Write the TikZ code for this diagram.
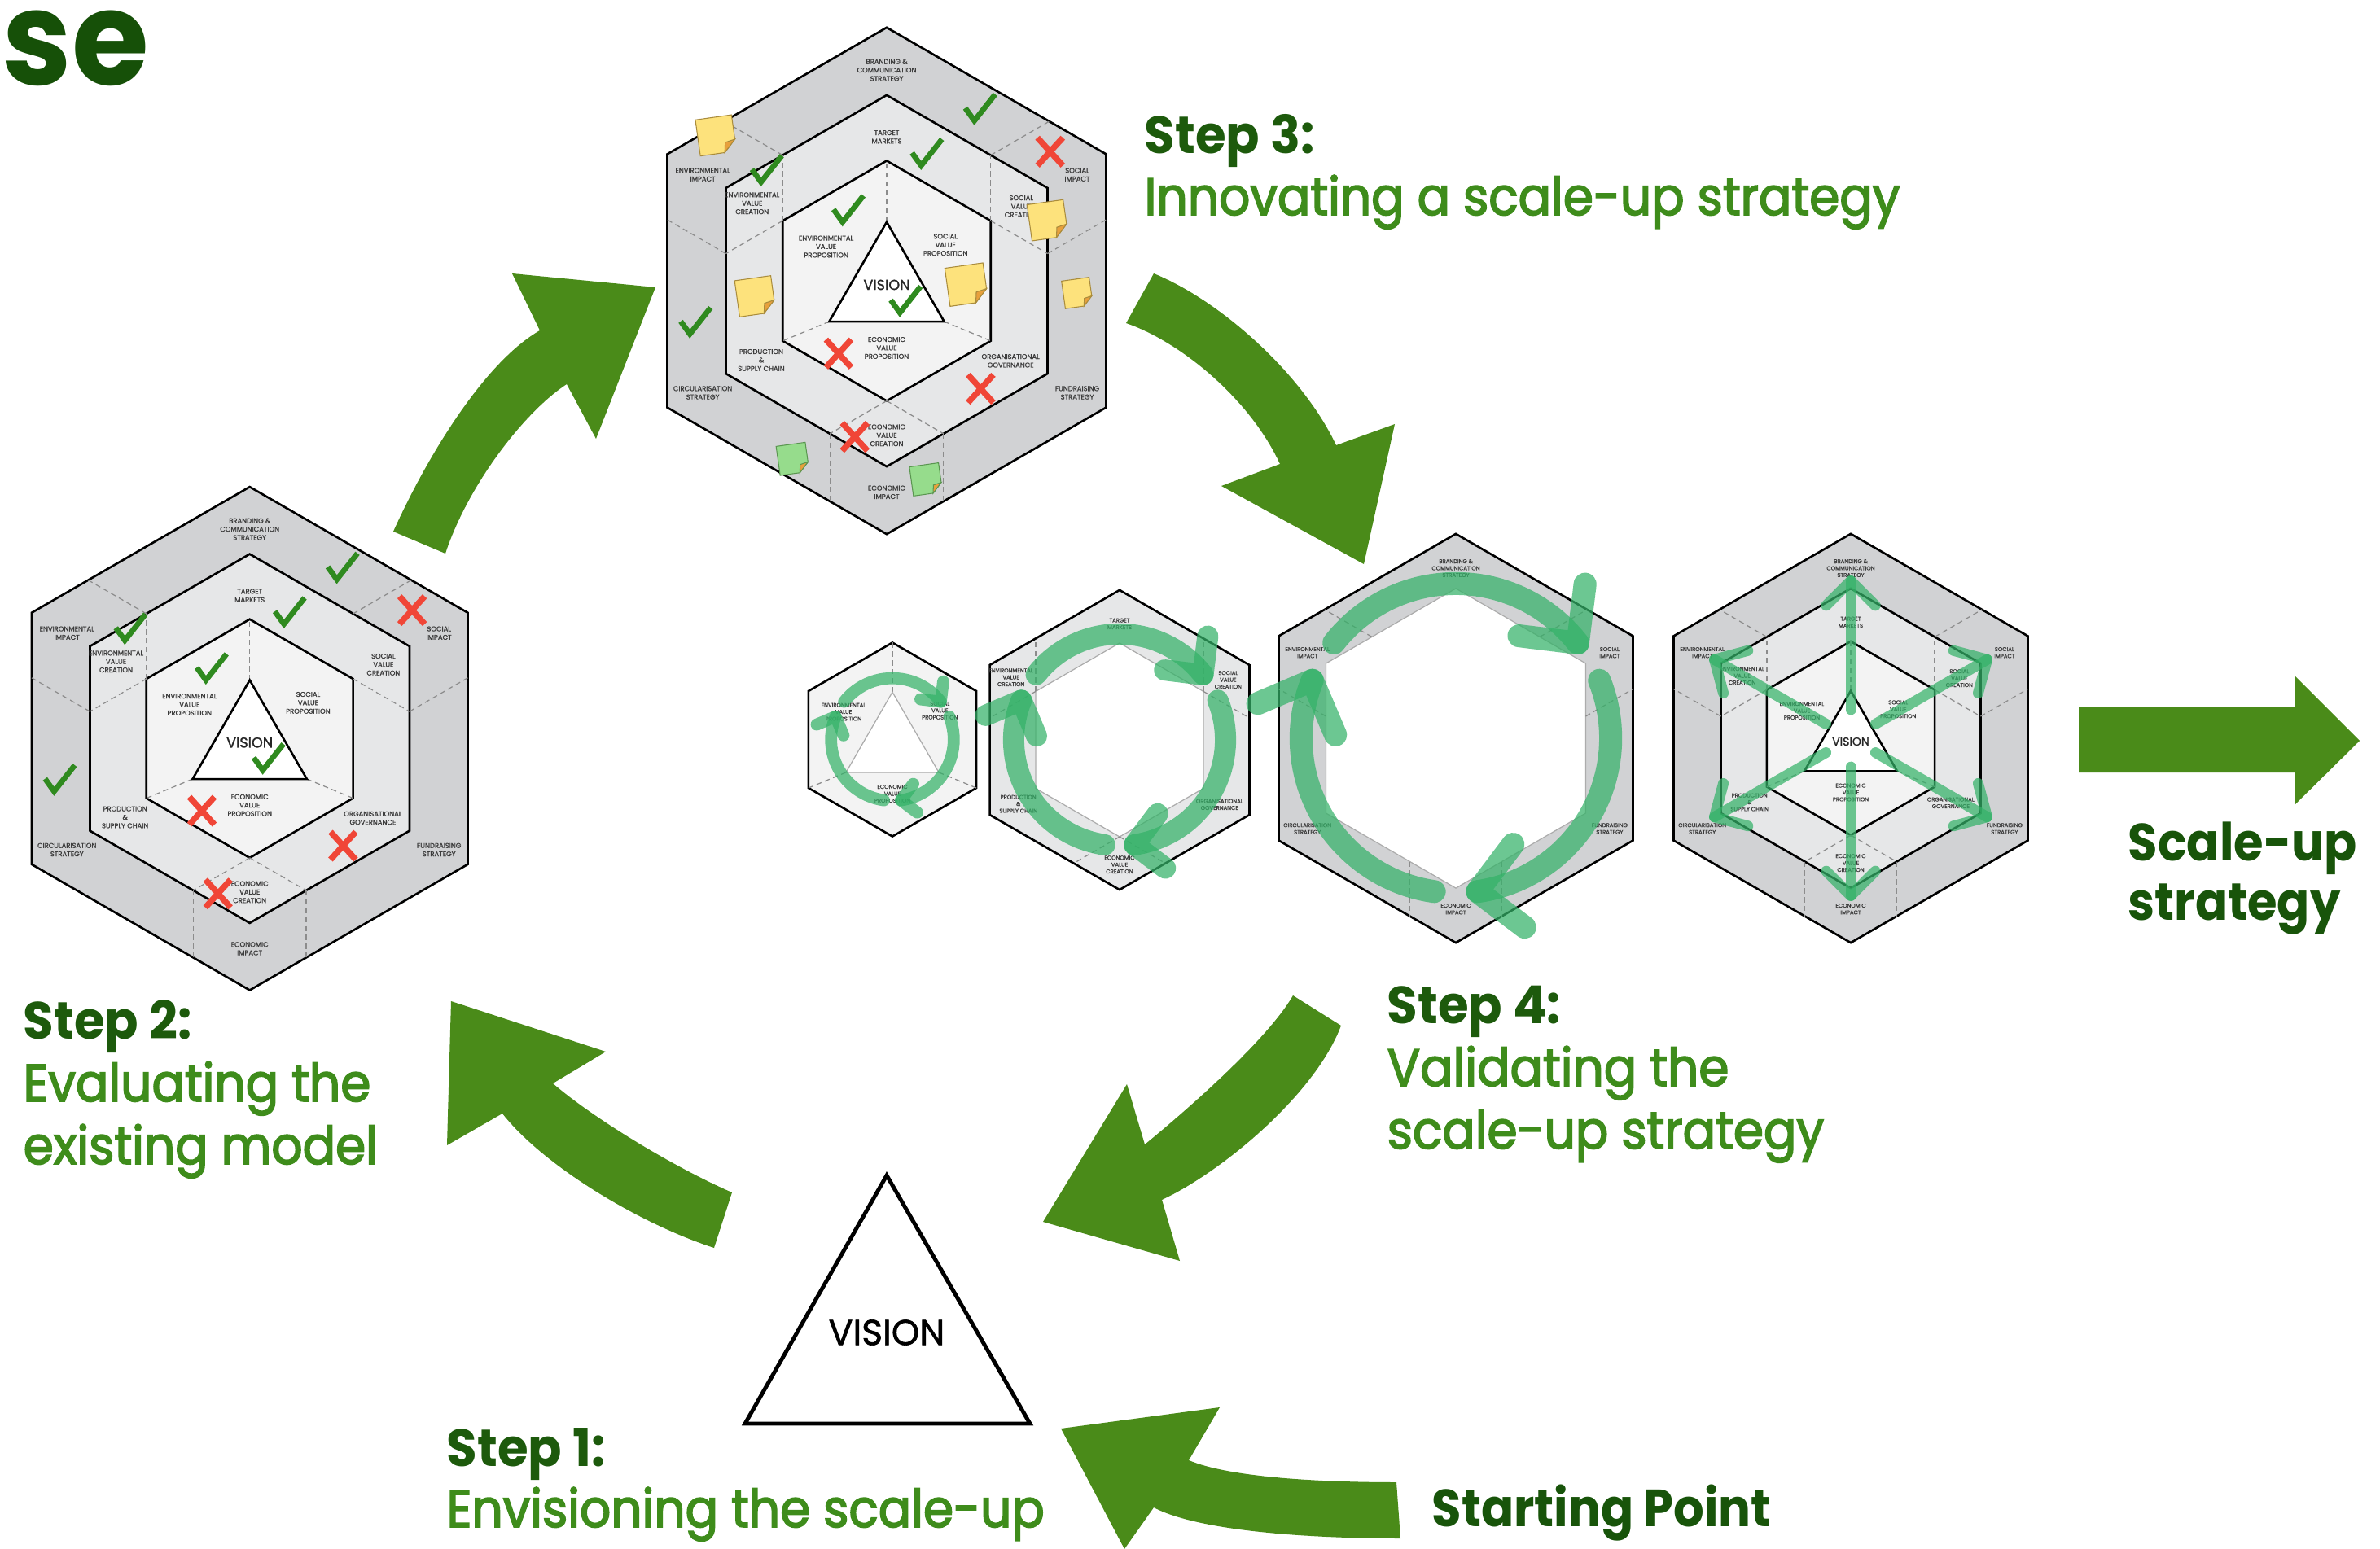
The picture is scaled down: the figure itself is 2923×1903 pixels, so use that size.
\documentclass[tikz,border=0pt]{standalone}
\usepackage{fontspec}
\setmainfont{Poppins}[BoldFeatures={FakeStretch=0.95}]
\newfontfamily\popmed{Poppins}[FakeBold=1.4]
\newfontfamily\popdesc{Poppins}[FakeBold=2.6, FakeStretch=0.93]
\newfontfamily\popsu{Poppins}[BoldFeatures={FakeStretch=0.92}]
\usetikzlibrary{calc}
\definecolor{arrowgreen}{RGB}{74,139,25}
\definecolor{descgreen}{RGB}{62,140,27}
\definecolor{stepgreen}{RGB}{29,90,12}
\definecolor{darkgreen}{RGB}{24,84,10}
\definecolor{segreen}{RGB}{22,80,8}
\definecolor{ringout}{RGB}{209,210,212}
\definecolor{ringmid}{RGB}{230,231,232}
\definecolor{ringin}{RGB}{243,243,243}
\definecolor{lblgray}{RGB}{60,60,60}
\definecolor{dashgray}{RGB}{140,140,140}
\definecolor{cyclegreen}{RGB}{52,178,104}
\definecolor{tickgreen}{RGB}{47,138,31}
\definecolor{crossred}{RGB}{240,70,55}
\definecolor{noteyellow}{RGB}{253,226,124}
\definecolor{noteedge}{RGB}{170,140,60}
\definecolor{notefold}{RGB}{232,160,60}
\definecolor{notegreen}{RGB}{150,220,140}
\definecolor{notegreenedge}{RGB}{90,150,80}
\tikzset{
 hexline/.style={draw=black, line width=0.75pt, line join=miter},
 thinhex/.style={draw=gray!65, line width=0.35pt},
 dsh/.style={draw=dashgray, line width=0.35pt, dash pattern=on 1.8pt off 1.3pt},
 lblA/.style={font=\popmed\fontsize{2.4}{2.95}\selectfont, text=lblgray, align=center, inner sep=0pt},
 lblB/.style={font=\popmed\fontsize{1.95}{2.4}\selectfont, text=lblgray, align=center, inner sep=0pt},
 visA/.style={font=\popmed\fontsize{5}{5}\selectfont, text=black!85, inner sep=0pt},
 visB/.style={font=\popmed\fontsize{4}{4}\selectfont, text=black!85, inner sep=0pt},
 cyc/.style={draw=cyclegreen, draw opacity=0.72, line cap=round, line join=round},
 bigarrow/.style={fill=arrowgreen},
 stepfont/.style={font=\bfseries\fontsize{18.3}{22}\selectfont, text=stepgreen, anchor=base west, inner sep=0pt},
 descfont/.style={font=\popdesc\fontsize{18.3}{22}\selectfont, text=descgreen, anchor=base west, inner sep=0pt},
 sufont/.style={font=\popsu\bfseries\fontsize{18.3}{22}\selectfont, text=darkgreen, anchor=base west, inner sep=0pt}
}
\newcommand\Rm{0.733}
\newcommand\Ri{0.474}
\newcommand\hexp[1]{(90:#1)--(150:#1)--(210:#1)--(270:#1)--(330:#1)--(30:#1)--cycle}
\newcommand\tripath{(0,0.232)--(-0.227,-0.161)--(0.227,-0.161)--cycle}
\newcommand\dashesOuter{\foreach \p in {150,30,270}{%
  \draw[dsh] (\p:\Ri) ++(\p-60:0.259) -- ++(\p:0.267);
  \draw[dsh] (\p:\Ri) ++(\p+60:0.259) -- ++(\p:0.267);}}
\newcommand\dashesMid{\foreach \p in {150,30,270}{%
  \draw[dsh] (\p:\Ri) -- ++(\p-60:0.259);
  \draw[dsh] (\p:\Ri) -- ++(\p+60:0.259);}}
\newcommand\dashesIn{%
  \draw[dsh] (0,0.232) -- (90:\Ri);
  \draw[dsh] (-0.227,-0.161) -- (210:\Ri);
  \draw[dsh] (0.227,-0.161) -- (330:\Ri);}
\newcommand\lblOuter[2]{%
 \node[#1] (#2-bc) at (0,0.832) {BRANDING \&\\COMMUNICATION\\STRATEGY};
 \node[#1] (#2-ei) at (-0.726,0.419) {ENVIRONMENTAL\\IMPACT};
 \node[#1] (#2-si) at (0.752,0.419) {SOCIAL\\IMPACT};
 \node[#1] (#2-cs) at (-0.726,-0.442) {CIRCULARISATION\\STRATEGY};
 \node[#1] (#2-fs) at (0.752,-0.442) {FUNDRAISING\\STRATEGY};
 \node[#1] (#2-ec) at (0,-0.835) {ECONOMIC\\IMPACT};}
\newcommand\lblMid[2]{%
 \node[#1] (#2-tm) at (0,0.568) {TARGET\\MARKETS};
 \node[#1] (#2-evc) at (-0.531,0.306) {ENVIRONMENTAL\\VALUE\\CREATION};
 \node[#1] (#2-svc) at (0.531,0.294) {SOCIAL\\VALUE\\CREATION};
 \node[#1] (#2-ps) at (-0.495,-0.313) {PRODUCTION\\\&\\SUPPLY CHAIN};
 \node[#1] (#2-og) at (0.489,-0.316) {ORGANISATIONAL\\GOVERNANCE};
 \node[#1] (#2-ecv) at (0,-0.61) {ECONOMIC\\VALUE\\CREATION};}
\newcommand\lblIn[2]{%
 \node[#1] (#2-evp) at (-0.239,0.135) {ENVIRONMENTAL\\VALUE\\PROPOSITION};
 \node[#1] (#2-svp) at (0.232,0.142) {SOCIAL\\VALUE\\PROPOSITION};
 \node[#1] (#2-ecp) at (0,-0.265) {ECONOMIC\\VALUE\\PROPOSITION};}
\newcommand\fullhex[6]{%
 \begin{scope}[shift={(#1,#2)},x=#3cm,y=#3cm]
  \filldraw[fill=ringout, hexline] \hexp{1};
  \filldraw[fill=ringmid, hexline] \hexp{\Rm};
  \filldraw[fill=ringin, hexline] \hexp{\Ri};
  \dashesOuter\dashesMid\dashesIn
  \filldraw[fill=white, hexline] \tripath;
  \lblOuter{#4}{#5}\lblMid{#4}{#5}\lblIn{#4}{#5}
  #6
 \end{scope}}
\newcommand\chk[1]{\draw[tickgreen, line width=1.9pt] (#1) ++(-0.055,0.008) -- ++(0.036,-0.05) -- ++(0.082,0.104);}
\newcommand\xmk[1]{\draw[crossred, line width=2.1pt] (#1) ++(-0.05,-0.055) -- ++(0.1,0.11) (#1) ++(-0.05,0.055) -- ++(0.1,-0.11);}
\newcommand\snote[4]{%
 \begin{scope}[shift={(#1)},rotate=8]
  \filldraw[fill=#3, draw=#4, line width=0.3pt] (-#2,#2) -- (#2,#2) -- (#2,-0.35*#2) -- (0.35*#2,-#2) -- (-#2,-#2) -- cycle;
  \filldraw[fill=notefold, draw=#4, line width=0.3pt] (#2,-0.35*#2) -- (0.45*#2,-0.45*#2) -- (0.35*#2,-#2) -- cycle;
 \end{scope}}
\newcommand\marksall{%
 \chk{0.365,0.674}\chk{0.155,0.497}\chk{-0.477,0.432}\chk{-0.155,0.274}\chk{0.071,-0.084}\chk{-0.758,-0.168}
 \xmk{0.645,0.51}\xmk{-0.19,-0.287}\xmk{0.371,-0.426}\xmk{-0.126,-0.616}}
\newcommand\circarrows[3]{\foreach \k in {0,1,2}{%
  \pgfmathsetmacro\sa{142-120*\k}\pgfmathsetmacro\ea{38-120*\k}
  \draw[cyc, line width=#2] (\sa:#1) arc[start angle=\sa, end angle=\ea, radius=#1];
  \draw[cyc, line width=#2] (\ea:#1) ++(\ea+45:#3) -- (\ea:#1) -- ++(\ea+135:#3);}}
\begin{document}
\begin{tikzpicture}[x=0.01cm,y=-0.01cm]
\useasboundingbox (0,0) rectangle (2923,1903);
\clip (0,0) rectangle (2923,1903);
\fill[white] (0,0) rectangle (2923,1903);

% title fragment
\node[font=\bfseries\fontsize{46}{46}\selectfont, text=segreen, anchor=base west, inner sep=0pt] (se) at (2,105) {se};

% Step 2 hexagon
\fullhex{306.7}{907.3}{3.09}{lblA}{sb}{%
  \node[visA] (sb-vis) at (0,-0.016) {VISION};
  \marksall}

% Step 3 hexagon
\fullhex{1089}{345}{3.11}{lblA}{sc}{%
  \node[visA] (sc-vis) at (0,-0.016) {VISION};
  \marksall
  \snote{-0.674,0.574}{0.072}{noteyellow}{noteedge}
  \snote{-0.519,-0.061}{0.072}{noteyellow}{noteedge}
  \snote{0.315,-0.015}{0.076}{noteyellow}{noteedge}
  \snote{0.635,0.239}{0.072}{noteyellow}{noteedge}
  \snote{0.752,-0.048}{0.055}{noteyellow}{noteedge}
  \snote{-0.371,-0.703}{0.058}{notegreen}{notegreenedge}
  \snote{0.155,-0.784}{0.058}{notegreen}{notegreenedge}}

% Step 4 row: hex 1 (inner)
\begin{scope}[shift={(1096,908.5)},x=2.51cm,y=2.51cm]
  \filldraw[fill=ringin, hexline] \hexp{\Ri};
  \dashesIn
  \filldraw[fill=white, thinhex] \tripath;
  \lblIn{lblB}{ha}
  \circarrows{0.3}{4.2pt}{0.1}
\end{scope}
% hex 2 (middle ring)
\begin{scope}[shift={(1375,909)},x=2.51cm,y=2.51cm]
  \filldraw[fill=ringmid, hexline] \hexp{\Rm};
  \filldraw[fill=white, thinhex] \hexp{\Ri};
  \dashesMid
  \lblMid{lblB}{hb}
  \circarrows{0.518}{7.4pt}{0.19}
\end{scope}
% hex 3 (outer ring)
\begin{scope}[shift={(1788,907)},x=2.51cm,y=2.51cm]
  \filldraw[fill=ringout, hexline] \hexp{1};
  \filldraw[fill=white, thinhex] \hexp{\Rm};
  \dashesOuter
  \lblOuter{lblB}{hc}
  \circarrows{0.757}{8pt}{0.29}
\end{scope}
% hex 4 (complete)
\fullhex{2273}{907}{2.51}{lblB}{hd}{%
  \node[visB] (hd-vis) at (0,-0.016) {VISION};
  \foreach \a in {90,30,150,210,270,330}{%
    \draw[cyc, line width=3.7pt] (\a:0.14) -- (\a:0.77);
    \draw[cyc, line width=3.7pt] (\a:0.77) ++(\a+135:0.17) -- (\a:0.77) -- ++(\a+225:0.17);}}

% big green arrows
\fill[bigarrow] (483,653) .. controls (525,560) and (595,445) .. (663,406) -- (629,336) -- (805,353) -- (732,539) -- (696,472) .. controls (645,505) and (575,595) .. (547,680) -- cycle;
\fill[bigarrow] (1417,336) .. controls (1500,370) and (1600,460) .. (1641,547) -- (1713,521) -- (1675,693) -- (1500,597) -- (1572,570) .. controls (1535,490) and (1450,420) .. (1383,397) -- cycle;
\fill[bigarrow] (1588,1223) .. controls (1555,1280) and (1450,1370) .. (1406,1406) -- (1384,1332) -- (1281,1501) -- (1449,1549) -- (1427,1474) .. controls (1500,1440) and (1615,1345) .. (1647,1260) -- cycle;
\fill[bigarrow] (899,1465) .. controls (830,1435) and (730,1375) .. (679,1331) -- (744,1292) -- (554,1230) -- (549,1407) -- (617,1368) .. controls (670,1435) and (790,1505) .. (877,1533) -- cycle;
\fill[bigarrow] (1715,1821) .. controls (1620,1821) and (1510,1815) .. (1460,1794) -- (1498,1729) -- (1303,1755) -- (1381,1903) -- (1417,1852) .. controls (1470,1880) and (1600,1890) .. (1720,1890) -- cycle;
\fill[bigarrow] (2553,869) -- (2819,869) -- (2819,831) -- (2898,910) -- (2819,988) -- (2819,949) -- (2553,949) -- cycle;

% big vision triangle
\draw[line width=1.4pt, line join=miter] (1089,1444) -- (915,1749) -- (1265,1749) -- cycle;
\node[font=\popmed\fontsize{12.5}{12.5}\selectfont, inner sep=0pt] (vis) at (1089,1637) {VISION};

% texts
\node[stepfont] (s3) at (1405,188.6) {Step 3:};
\node[descfont] (s3d) at (1405,264) {Innovating a scale-up strategy};
\node[stepfont] (s2) at (28,1276) {Step 2:};
\node[descfont] (s2d) at (28,1353) {Evaluating the};
\node[descfont] (s2e) at (28,1430) {existing model};
\node[stepfont] (s4) at (1703,1257) {Step 4:};
\node[descfont] (s4d) at (1703,1334) {Validating the};
\node[descfont] (s4e) at (1703,1411) {scale-up strategy};
\node[stepfont] (s1) at (548,1801) {Step 1:};
\node[descfont] (s1d) at (548,1876) {Envisioning the scale-up};
\node[sufont] (sp) at (1758,1875) {Starting Point};
\node[sufont] (su1) at (2613,1057) {Scale-up};
\node[sufont] (su2) at (2613,1130) {strategy};
\end{tikzpicture}
\end{document}
